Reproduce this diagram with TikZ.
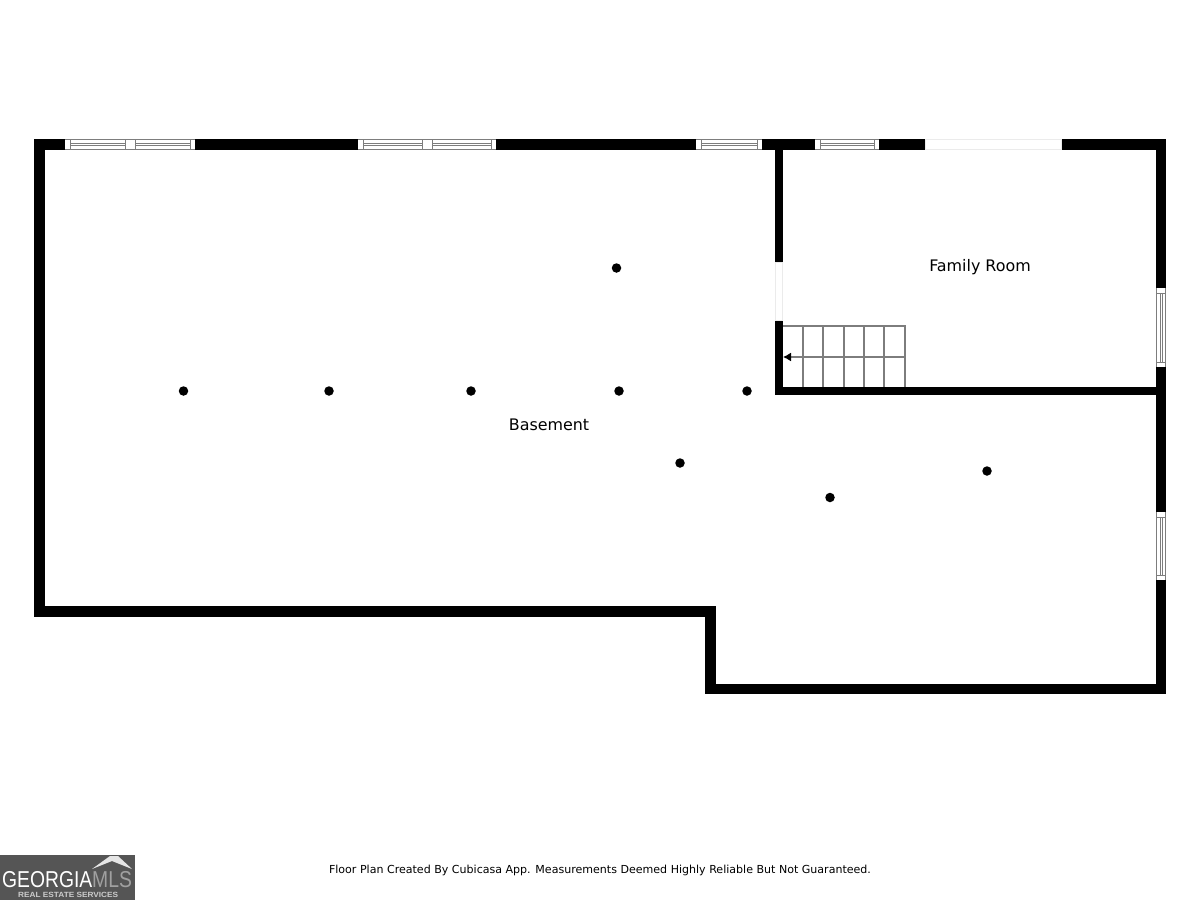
\documentclass[tikz,border=0pt]{standalone}
\usepackage{fontspec}
\setmainfont{DejaVu Sans}
\newfontfamily\logofont{Liberation Sans}
\usepackage{xcolor}
\definecolor{wallblack}{RGB}{0,0,0}
\definecolor{framegray}{RGB}{125,125,125}
\definecolor{openinggray}{RGB}{235,235,235}
\definecolor{logogray}{RGB}{85,85,85}
\definecolor{mlsgray}{RGB}{160,160,160}
\usepackage{tikz}
\usetikzlibrary{arrows.meta}
\newcommand{\windowh}[2]{
    \fill[white] (#1,139) rectangle (#2,150);
    \draw[frameline] (#1,139.5) -- (#2,139.5) (#1,149.5) -- (#2,149.5)
        (#1+5,143) -- (#2-5,143) (#1+5,145.5) -- (#2-5,145.5)
        (#1+5,139.5) -- (#1+5,149.5) (#2-5,139.5) -- (#2-5,149.5);
}
\newcommand{\windowv}[2]{
    \fill[white] (1156,#1) rectangle (1166,#2);
    \draw[frameline] (1156.5,#1) -- (1156.5,#2) (1165.5,#1) -- (1165.5,#2)
        (1160,#1+5) -- (1160,#2-5) (1162.5,#1+5) -- (1162.5,#2-5)
        (1156.5,#1+5) -- (1165.5,#1+5) (1156.5,#2-5) -- (1165.5,#2-5);
}
\tikzset{
    wall/.style={fill=wallblack},
    frameline/.style={draw=framegray, line width=1pt},
    opening/.style={draw=openinggray, fill=white, line width=1pt},
    stairline/.style={draw=framegray, line width=1.3pt},
    fixture/.style={circle, fill=black, inner sep=0pt, minimum size=9.5pt},
    room/.style={font=\fontsize{15.9}{18}\selectfont},
    footer/.style={font=\fontsize{11.05}{13}\selectfont}
}
\begin{document}
\begin{tikzpicture}[x=1pt, y=-1pt]
    \useasboundingbox (0,0) rectangle (1200,900);

    \fill[wall] (34,139) rectangle (1166,150);
    \fill[wall] (34,139) rectangle (45,617);
    \fill[wall] (34,606) rectangle (716,617);
    \fill[wall] (705,606) rectangle (716,694);
    \fill[wall] (705,684) rectangle (1166,694);
    \fill[wall] (1156,139) rectangle (1166,694);
    \fill[wall] (775,150) rectangle (783,262);
    \fill[wall] (775,320) rectangle (783,395);
    \fill[wall] (775,387) rectangle (1156,395);

    \windowh{65}{130}
    \windowh{130}{195}
    \windowh{358}{427}
    \windowh{427}{496}
    \windowh{696}{762}
    \windowh{815}{879}
    \windowv{288}{367}
    \windowv{512}{580}

    \path[opening] (925,139.5) rectangle (1061,149.5);
    \path[opening] (775.5,262) rectangle (782.5,320);

    \draw[stairline] (783,326) -- (905,326) -- (905,387);
    \draw[stairline] (803,326) -- (803,387);
    \draw[stairline] (823,326) -- (823,387);
    \draw[stairline] (844,326) -- (844,387);
    \draw[stairline] (864,326) -- (864,387);
    \draw[stairline] (884,326) -- (884,387);

    \coordinate (stairtop) at (905,357);
    \coordinate (stairend) at (783,357);
    \draw[stairline, -{Latex[length=8pt, width=9pt, black]}] (stairtop) -- (stairend);

    \node[fixture] (fixa) at (183.5,391) {};
    \node[fixture] (fixb) at (329,391) {};
    \node[fixture] (fixc) at (471,391) {};
    \node[fixture] (fixd) at (619,391) {};
    \node[fixture] (fixe) at (747,391) {};
    \node[fixture] (fixf) at (616.5,268) {};
    \node[fixture] (fixg) at (680,463) {};
    \node[fixture] (fixh) at (830,497.5) {};
    \node[fixture] (fixi) at (987,471) {};

    \node[room] (familyroom) at (980,267) {Family Room};
    \node[room] (basement) at (549,425) {Basement};
    \node[footer] (disclaimer) at (600,870) {Floor Plan Created By Cubicasa App. Measurements Deemed Highly Reliable But Not Guaranteed.};

    \fill[logogray] (0,855) rectangle (135,900);
    \fill[white!85!logogray] (92,869) -- (110,856) -- (118,856) -- (132,869) -- (112,861) -- cycle;
    \node[anchor=west, inner sep=0pt, white, font=\logofont\fontsize{23}{25}\selectfont, xscale=.84] (georgia) at (2,880) {GEORGIA};
    \node[anchor=west, inner sep=0pt, mlsgray, font=\logofont\fontsize{23}{25}\selectfont, xscale=.84] (mls) at (92,880) {MLS};
    \node[anchor=west, inner sep=0pt, white!70!logogray, font=\logofont\bfseries\fontsize{7.5}{9}\selectfont, xscale=1.1] (services) at (18,895) {REAL ESTATE SERVICES};
\end{tikzpicture}
\end{document}
